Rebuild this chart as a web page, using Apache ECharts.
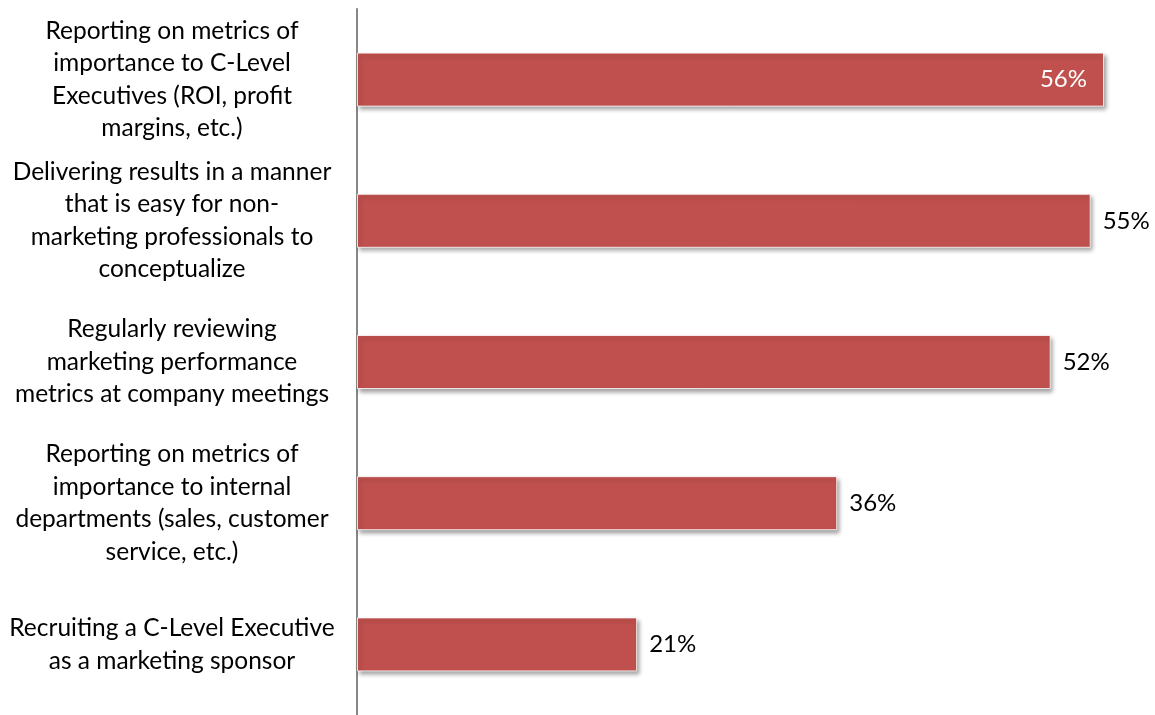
<!DOCTYPE html>
<html>
<head>
<meta charset="utf-8">
<script src="https://cdn.jsdelivr.net/npm/echarts@6/dist/echarts.min.js"></script>
<style>
  html, body { margin: 0; padding: 0; background: #fff; }
  #chart { width: 1155px; height: 715px; }
</style>
</head>
<body>
<div id="chart"></div>
<script>
const categories = [
  'Reporting on metrics of\nimportance to C-Level\nExecutives (ROI, profit\nmargins, etc.)',
  'Delivering results in a manner\nthat is easy for non-\nmarketing professionals to\nconceptualize',
  'Regularly reviewing\nmarketing performance\nmetrics at company meetings',
  'Reporting on metrics of\nimportance to internal\ndepartments (sales, customer\nservice, etc.)',
  'Recruiting a C-Level Executive\nas a marketing sponsor'
];
const values = [56, 55, 52, 36, 21];
// the longest bar carries its label inside
const insideLabel = [true, false, false, false, false];

const chart = echarts.init(document.getElementById('chart'));
const font = 'Lato, "Open Sans", sans-serif';

const option = {
  backgroundColor: '#ffffff',
  animation: false,
  grid: { left: 357, top: 9, width: 747, height: 712.5 },
  xAxis: {
    type: 'value',
    min: 0,
    max: 56,
    show: false
  },
  yAxis: {
    type: 'category',
    inverse: true,
    data: categories,
    axisLine: { show: true, lineStyle: { color: '#878787', width: 2 } },
    axisTick: { show: false },
    axisLabel: {
      align: 'center',
      margin: 185,
      fontFamily: font,
      fontSize: 24.5,
      lineHeight: 32.5,
      color: '#000'
    }
  },
  series: [{
    type: 'bar',
    barWidth: 54,
    data: values.map((v, i) => ({
      value: v,
      label: insideLabel[i]
        ? { position: 'insideRight', color: '#fff', distance: 17 }
        : { position: 'right', color: '#000', distance: 12 }
    })),
    itemStyle: {
      color: '#C0504D',
      borderColor: 'rgba(255,255,255,0.8)',
      borderWidth: 1,
      shadowColor: 'rgba(0,0,0,0.35)',
      shadowBlur: 4,
      shadowOffsetX: 2,
      shadowOffsetY: 3
    },
    label: {
      show: true,
      fontFamily: font,
      fontSize: 24,
      formatter: p => p.value + '%'
    }
  }]
};

chart.setOption(option);
</script>
</body>
</html>
